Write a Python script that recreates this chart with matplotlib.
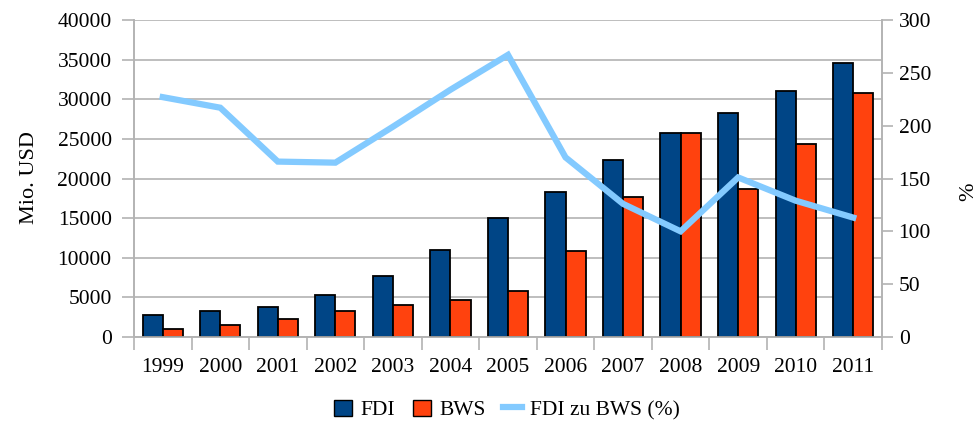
import numpy as np
import matplotlib
matplotlib.use("Agg")
import matplotlib.pyplot as plt
from matplotlib.patches import Patch
from matplotlib.lines import Line2D

plt.rcParams['font.family'] = ['Liberation Serif', 'DejaVu Serif']

years = ['1999', '2000', '2001', '2002', '2003', '2004', '2005',
         '2006', '2007', '2008', '2009', '2010', '2011']
fdi = [2750, 3250, 3760, 5240, 7720, 11010, 15000,
       18300, 22300, 25800, 28300, 31050, 34600]
bws = [1050, 1480, 2330, 3250, 4010, 4730, 5780,
       10800, 17700, 25800, 18700, 24300, 30800]
ratio = [227, 217, 166, 165, 199, 234, 267,
         170, 126, 100, 151, 129, 113]

c_fdi = '#004586'
c_bws = '#ff420e'
c_line = '#83caff'
grey = '#b3b3b3'

fig = plt.figure(figsize=(9.8, 4.24), dpi=100)
ax = fig.add_axes([0.1367, 0.2052, 0.9 - 0.1367, 0.9528 - 0.2052])
ax2 = ax.twinx()

x = np.arange(len(years))
w = 0.35
ax.bar(x - w / 2, fdi, width=w, color=c_fdi, edgecolor='black', linewidth=1.3, zorder=3)
ax.bar(x + w / 2, bws, width=w, color=c_bws, edgecolor='black', linewidth=1.3, zorder=3)
ax2.plot(x, ratio, color=c_line, linewidth=4.5, solid_joinstyle='miter', zorder=4)

ax.set_xlim(-0.5, len(years) - 0.5)
ax.set_ylim(0, 40000)
ax.set_yticks(np.arange(0, 40001, 5000))
ax2.set_ylim(0, 300)
ax2.set_yticks(np.arange(0, 301, 50))

ax.yaxis.grid(True, color=grey, linewidth=1.2, zorder=0)
ax.set_axisbelow(True)

ax.set_xticks(x)
ax.set_xticklabels(years)
ax.set_xticks(np.arange(-0.5, len(years), 1), minor=True)
ax.tick_params(axis='x', which='major', length=0, pad=15, labelsize=15.5)
ax.tick_params(axis='x', which='minor', length=9, width=1.2, color=grey)
ax.tick_params(axis='y', length=9, width=1.2, color=grey, pad=7, labelsize=15.5)
ax2.tick_params(axis='y', length=8, width=1.2, color=grey, pad=4, labelsize=15.5)

for a in (ax, ax2):
    a.spines['top'].set_visible(False)
    for s in ('left', 'right', 'bottom'):
        a.spines[s].set_color(grey)
        a.spines[s].set_linewidth(1.2)

fig.text(30 / 980, 1 - 178 / 424, 'Mio. USD', fontsize=16, rotation=90,
         ha='center', va='center')
fig.text(969 / 980, 1 - 192 / 424, '%', fontsize=16, rotation=90,
         ha='center', va='center')

handles = [Patch(facecolor=c_fdi, edgecolor='black'),
           Patch(facecolor=c_bws, edgecolor='black'),
           Line2D([], [], color=c_line, linewidth=4.5)]
fig.legend(handles, ['FDI', 'BWS', 'FDI zu BWS (%)'], loc='center',
           bbox_to_anchor=(507 / 980, 1 - 410 / 424), ncol=3, frameon=False,
           fontsize=15.5, handlelength=0.85, handleheight=0.8,
           handletextpad=0.4, columnspacing=0.8)

fig.savefig('out.png', dpi=100)
